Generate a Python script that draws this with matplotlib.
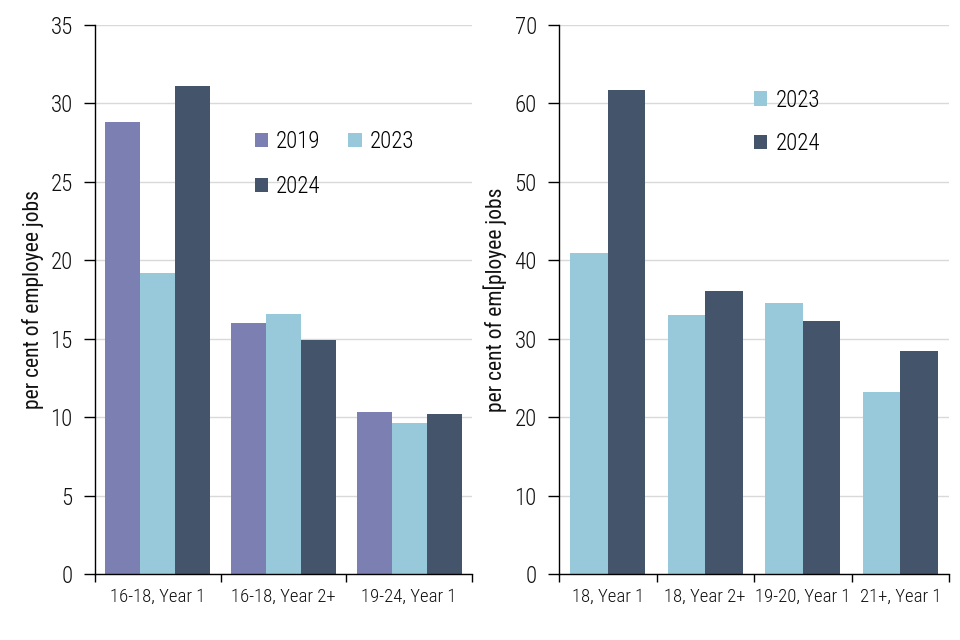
import matplotlib
matplotlib.use("Agg")
import matplotlib.pyplot as plt
import numpy as np

plt.rcParams['font.family'] = ['Roboto Condensed', 'DejaVu Sans']
plt.rcParams['font.weight'] = 300

# ---- data ----
left_categories = ["16-18, Year 1", "16-18, Year 2+", "19-24, Year 1"]
left_2019 = [28.8, 16.0, 10.3]
left_2023 = [19.2, 16.6, 9.6]
left_2024 = [31.1, 14.9, 10.2]

right_categories = ["18, Year 1", "18, Year 2+", "19-20, Year 1", "21+, Year 1"]
right_2023 = [40.9, 33.0, 34.6, 23.2]
right_2024 = [61.7, 36.1, 32.3, 28.4]

left_yticks = [0, 5, 10, 15, 20, 25, 30, 35]
right_yticks = [0, 10, 20, 30, 40, 50, 60, 70]
ylabel_left = "per cent of employee jobs"
ylabel_right = "per cent of em[ployee jobs"

C2019 = "#7B7FB2"
C2023 = "#97C9DA"
C2024 = "#44546A"
GRID = "#D9D9D9"
TXT = "#111111"

fig = plt.figure(figsize=(9.6, 6.4), dpi=100)
axL = fig.add_axes([95/960, 1-574/640, 377/960, 549/640])
axR = fig.add_axes([559/960, 1-574/640, 390/960, 549/640])


def style(ax, ncat, yticks, ylabel, labels, lx):
    ax.set_xlim(-0.5, ncat - 0.5)
    ax.set_ylim(yticks[0], yticks[-1])
    ax.set_yticks(yticks)
    ax.yaxis.grid(True, color=GRID, linewidth=1)
    ax.set_axisbelow(True)
    for s in ("top", "right"):
        ax.spines[s].set_visible(False)
    for s in ("left", "bottom"):
        ax.spines[s].set_color("black")
        ax.spines[s].set_linewidth(1)
    ax.set_xticks(np.arange(ncat))
    ax.set_xticklabels(labels, fontsize=13.5, color=TXT)
    ax.set_xticks(np.arange(ncat + 1) - 0.5, minor=True)
    ax.tick_params(axis="x", which="major", length=0, pad=10)
    ax.tick_params(axis="x", which="minor", length=6, width=1, direction="out", color="black")
    ax.tick_params(axis="y", length=8, width=1, direction="out", pad=8, labelsize=16.5,
                   color="black", labelcolor=TXT)
    ax.set_ylabel(ylabel, fontsize=15.5, color=TXT)
    ax.yaxis.set_label_coords(lx, 0.5)


# left panel
xL = np.arange(len(left_categories))
wL = 0.278
b19 = axL.bar(xL - wL, left_2019, wL, color=C2019, label="2019")
b23 = axL.bar(xL, left_2023, wL, color=C2023, label="2023")
b24 = axL.bar(xL + wL, left_2024, wL, color=C2024, label="2024")
style(axL, len(left_categories), left_yticks, ylabel_left, left_categories, -0.135)
# row-major order: 2019, 2023 / 2024
axL.legend([b19, b24, b23], ["2019", "2024", "2023"],
           loc="upper left", bbox_to_anchor=(0.424, 0.808), ncol=2, frameon=False,
           fontsize=16.5, handlelength=0.58, handleheight=0.58, handletextpad=0.35,
           columnspacing=1.2, labelspacing=0.93, borderpad=0, borderaxespad=0)

# right panel
xR = np.arange(len(right_categories))
wR = 0.385
axR.bar(xR - wR/2, right_2023, wR, color=C2023, label="2023")
axR.bar(xR + wR/2, right_2024, wR, color=C2024, label="2024")
style(axR, len(right_categories), right_yticks, ylabel_right, right_categories, -0.133)
axR.legend(loc="upper left", bbox_to_anchor=(0.5, 0.884), ncol=1, frameon=False,
           fontsize=16.5, handlelength=0.58, handleheight=0.58, handletextpad=0.35,
           labelspacing=0.89, borderpad=0, borderaxespad=0)

fig.savefig("out.png", dpi=100)
